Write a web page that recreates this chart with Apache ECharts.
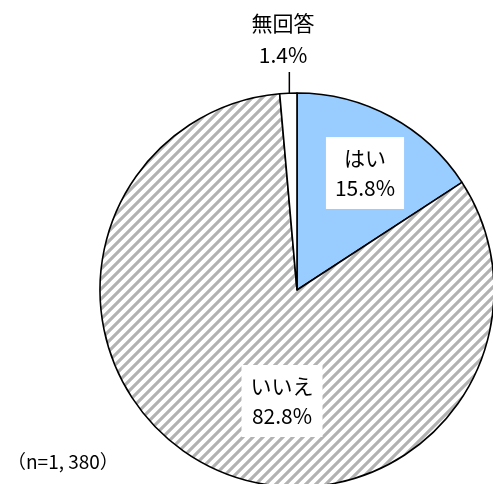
<!DOCTYPE html>
<html><head><meta charset="utf-8">
<script src="https://cdn.jsdelivr.net/npm/echarts@6/dist/echarts.min.js"></script>
<style>html,body{margin:0;padding:0;background:#fff}#c{width:493px;height:484px}</style>
</head><body><div id="c"></div>
<script>
const categories = ['はい', 'いいえ', '無回答'];
const values = [15.8, 82.8, 1.4];
const valueLabels = ['15.8%', '82.8%', '1.4%'];
const sampleNote = '（n=1, 380）';

function hatch() {
  const s = 10;
  const c = document.createElement('canvas');
  c.width = s; c.height = s;
  const g = c.getContext('2d');
  g.fillStyle = '#fff'; g.fillRect(0, 0, s, s);
  g.strokeStyle = '#b2b2b2'; g.lineWidth = 3.1;
  g.beginPath();
  g.moveTo(-2, s + 2); g.lineTo(s + 2, -2);
  g.moveTo(-s - 2, s + 2); g.lineTo(s + 2, -s - 2);
  g.moveTo(-2, 2 * s + 2); g.lineTo(2 * s + 2, -2);
  g.stroke();
  return c;
}
const fills = ['#99ccff', {image: hatch(), repeat: 'repeat'}, '#ffffff'];
const labelPos = [[365, 173], [282, 401], [283, 39]];

const chart = echarts.init(document.getElementById('c'));
chart.setOption({
  animation: false,
  title: {
    text: sampleNote, left: 2, bottom: 8,
    textStyle: {fontFamily: 'Noto Sans CJK JP', fontSize: 19, fontWeight: 'normal', color: '#000'}
  },
  series: [{
    type: 'pie',
    center: [297, 290],
    radius: 197,
    startAngle: 90,
    clockwise: true,
    avoidLabelOverlap: false,
    itemStyle: {borderColor: '#000', borderWidth: 1.6},
    label: {
      show: true,
      position: 'outside',
      overflow: 'none',
      formatter: p => p.name + '\n' + valueLabels[p.dataIndex],
      fontFamily: 'Noto Sans CJK JP',
      fontSize: 21,
      lineHeight: 30,
      color: '#000',
      align: 'center',
      backgroundColor: '#fff',
      padding: [6, 9]
    },
    labelLine: {show: true, length: 20, length2: 0, lineStyle: {color: '#000', width: 1.5}},
    labelLayout: function (p) {
      const pos = labelPos[p.dataIndex];
      const out = {x: pos[0], y: pos[1], align: 'center', verticalAlign: 'middle'};
      if (p.dataIndex === 2 && p.labelLinePoints) {
        const a = p.labelLinePoints[0];
        out.labelLinePoints = [[a[0] + 1, a[1]], [a[0] + 1, pos[1] + p.labelRect.height / 2 + 1]];
      }
      return out;
    },
    data: categories.map((n, i) => ({
      name: n, value: values[i],
      itemStyle: {color: fills[i]},
      label: i === 2 ? {backgroundColor: 'transparent', padding: 0, lineHeight: 32} : {},
      labelLine: {show: i === 2}
    }))
  }]
});
</script></body></html>
